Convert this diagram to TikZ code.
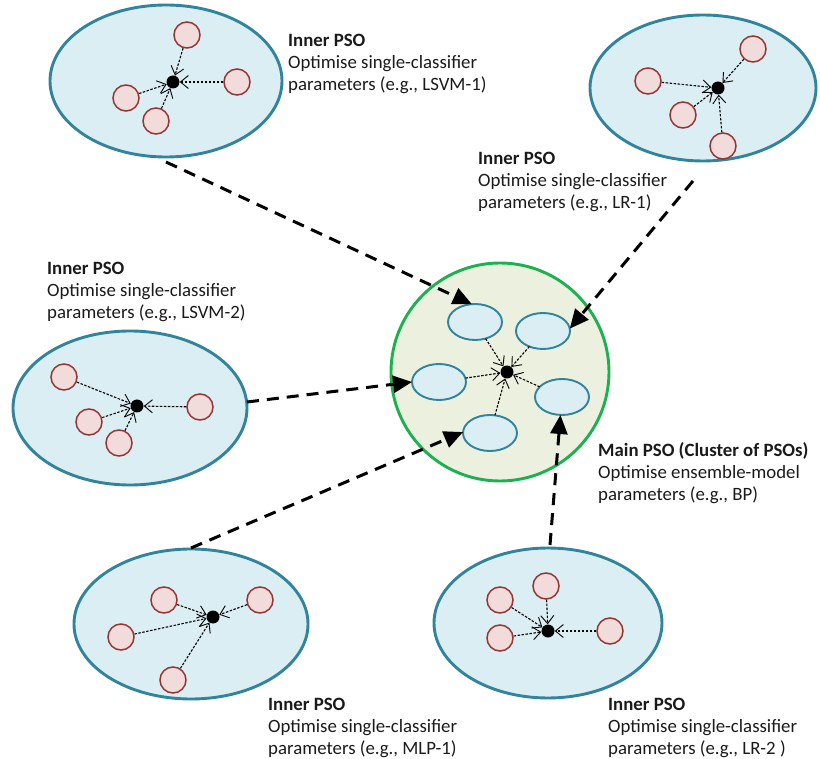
\documentclass[tikz,border=0pt]{standalone}
\usepackage{fontspec}
\setmainfont{Carlito}
\usetikzlibrary{arrows.meta,shapes.geometric}

\definecolor{swarmfill}{HTML}{DAEEF3}
\definecolor{swarmedge}{HTML}{31849B}
\definecolor{particlefill}{HTML}{F2DCDB}
\definecolor{particleedge}{HTML}{943634}
\definecolor{mainfill}{HTML}{EBF1DE}
\definecolor{mainedge}{HTML}{1DB050}
\definecolor{labeltext}{HTML}{1A1A1A}

\tikzset{
  swarm/.style={ellipse, draw=swarmedge, fill=swarmfill, line width=2.9pt,
    inner sep=0pt, outer sep=0pt},
  subswarm/.style={ellipse, draw=swarmedge, fill=swarmfill, line width=1.9pt,
    inner sep=0pt, outer sep=0pt, minimum width=54pt, minimum height=36pt},
  particle/.style={circle, draw=particleedge, fill=particlefill, line width=1.5pt,
    inner sep=0pt, minimum size=26pt},
  hub/.style={circle, fill=black, inner sep=0pt, minimum size=13pt},
  link/.style={line width=1.1pt, dash pattern=on 2.5pt off 1.5pt,
    -{Straight Barb[length=8pt,width=13pt,line width=0.9pt]}},
  feed/.style={line width=3pt, dash pattern=on 12pt off 8pt,
    -{Triangle[length=19pt,width=17pt]}},
  caption/.style={anchor=north west, align=left, inner sep=0pt, text=labeltext,
    font=\fontsize{18.8pt}{22pt}\selectfont}
}

\begin{document}
\begin{tikzpicture}[x=1pt,y=-1pt]
\useasboundingbox (0,0) rectangle (820,759);

% ---------- main PSO ----------
\node[circle, draw=mainedge, fill=mainfill, line width=2.9pt, inner sep=0pt,
  minimum size=218pt] (main) at (500,372) {};
\node[subswarm] (e1) at (475,322) {};
\node[subswarm] (e2) at (543,331) {};
\node[subswarm] (e3) at (439,382) {};
\node[subswarm] (e4) at (562,397) {};
\node[subswarm] (e5) at (490,433) {};
\node[hub] (mh) at (507,372) {};
\foreach \e in {e1,e2,e3,e4,e5} \draw[link] (\e) -- (mh);

% ---------- inner PSO swarms ----------
% top left
\node[swarm, minimum width=232pt, minimum height=152pt] (tl) at (166,81) {};
\node[hub] (tlh) at (173,82) {};
\node[particle] (tl1) at (187,35) {};
\node[particle] (tl2) at (237,82) {};
\node[particle] (tl3) at (126,98) {};
\node[particle] (tl4) at (156,121) {};
\foreach \p in {tl1,tl2,tl3,tl4} \draw[link] (\p) -- (tlh);

% top right
\node[swarm, minimum width=226pt, minimum height=146pt] (tr) at (703,88) {};
\node[hub] (trh) at (718,88) {};
\node[particle] (tr1) at (753,49) {};
\node[particle] (tr2) at (648,81) {};
\node[particle] (tr3) at (683,115) {};
\node[particle] (tr4) at (723,146) {};
\foreach \p in {tr1,tr2,tr3,tr4} \draw[link] (\p) -- (trh);

% left
\node[swarm, minimum width=234pt, minimum height=154pt] (ll) at (130,408) {};
\node[hub] (llh) at (137,406) {};
\node[particle] (ll1) at (64,377) {};
\node[particle] (ll2) at (200,407) {};
\node[particle] (ll3) at (89,422) {};
\node[particle] (ll4) at (119,443) {};
\foreach \p in {ll1,ll2,ll3,ll4} \draw[link] (\p) -- (llh);

% bottom left
\node[swarm, minimum width=234pt, minimum height=150pt] (bl) at (191,624) {};
\node[hub] (blh) at (213,617) {};
\node[particle] (bl1) at (164,600) {};
\node[particle] (bl2) at (260,600) {};
\node[particle] (bl3) at (121,637) {};
\node[particle] (bl4) at (173,680) {};
\foreach \p in {bl1,bl2,bl3,bl4} \draw[link] (\p) -- (blh);

% bottom right
\node[swarm, minimum width=228pt, minimum height=150pt] (br) at (548,623) {};
\node[hub] (brh) at (548,631) {};
\node[particle] (br1) at (500,600) {};
\node[particle] (br2) at (546,586) {};
\node[particle] (br3) at (500,638) {};
\node[particle] (br4) at (610,631) {};
\foreach \p in {br1,br2,br3,br4} \draw[link] (\p) -- (brh);

% ---------- inner swarms feeding the main swarm ----------
\coordinate (tlout) at ([shift={(0,5)}]tl.south);
\coordinate (trout) at ([shift={(-10,20)}]tr.south);
\coordinate (llout) at ([shift={(0,-6)}]ll.east);
\coordinate (blout) at ([shift={(0,-1)}]bl.north);
\coordinate (brout) at ([shift={(2,-3)}]br.north);
\draw[feed] (tlout) -- (e1.100);
\draw[feed] (trout) -- (e2.5);
\draw[feed] (llout) -- (e3.west);
\draw[feed] (blout) -- (e5.178);
\draw[feed] (brout) -- (e4.265);

% ---------- captions ----------
\node[caption] (ctl) at (288,34) {\textbf{Inner PSO}\\Optimise single-classifier\\parameters (e.g., LSVM-1)};
\node[caption] (ctr) at (478,152) {\textbf{Inner PSO}\\Optimise single-classifier\\parameters (e.g., LR-1)};
\node[caption] (cll) at (47,262) {\textbf{Inner PSO}\\Optimise single-classifier\\parameters (e.g., LSVM-2)};
\node[caption] (cmain) at (598,442) {\textbf{Main PSO (Cluster of PSOs)}\\Optimise ensemble-model\\parameters (e.g., BP)};
\node[caption] (cbl) at (268,698) {\textbf{Inner PSO}\\Optimise single-classifier\\parameters (e.g., MLP-1)};
\node[caption] (cbr) at (608,698) {\textbf{Inner PSO}\\Optimise single-classifier\\parameters (e.g., LR-2 )};
\end{tikzpicture}
\end{document}
